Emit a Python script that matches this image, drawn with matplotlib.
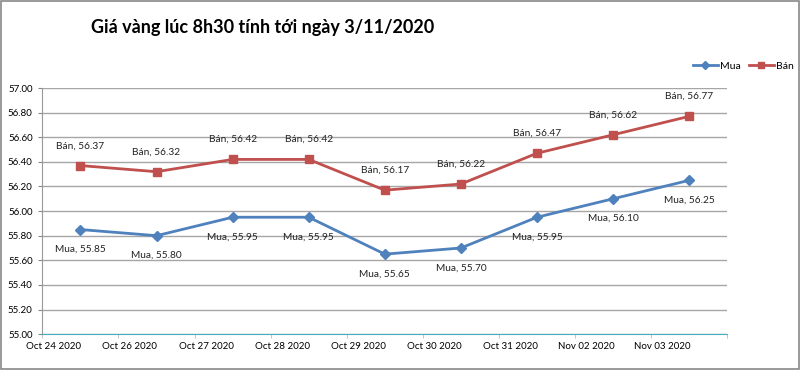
import matplotlib.pyplot as plt
from matplotlib.patches import Rectangle

plt.rcParams['font.family'] = ['Lato', 'DejaVu Sans']

dates = ['Oct 24 2020', 'Oct 26 2020', 'Oct 27 2020', 'Oct 28 2020', 'Oct 29 2020',
         'Oct 30 2020', 'Oct 31 2020', 'Nov 02 2020', 'Nov 03 2020']
mua = [55.85, 55.80, 55.95, 55.95, 55.65, 55.70, 55.95, 56.10, 56.25]
ban = [56.37, 56.32, 56.42, 56.42, 56.17, 56.22, 56.47, 56.62, 56.77]

blue = '#4F81BD'
red = '#C0504D'

fig = plt.figure(figsize=(8, 3.7), dpi=100)
ax = fig.add_axes([0.053, 0.097, 0.856, 0.665])

xs = [i + 0.5 for i in range(len(dates))]
ax.plot(xs, mua, color=blue, lw=2, marker='D', ms=5, label='Mua', zorder=3)
ax.plot(xs, ban, color=red, lw=2, marker='s', ms=6, label='Bán', zorder=3)

for x, v in zip(xs, ban):
    ax.annotate(f'Bán, {v:.2f}', (x, v), xytext=(0, 11), textcoords='offset points',
                ha='center', va='bottom', fontsize=7.3, color='#222222')
for x, v in zip(xs, mua):
    ax.annotate(f'Mua, {v:.2f}', (x, v), xytext=(0, -11), textcoords='offset points',
                ha='center', va='top', fontsize=7.3, color='#222222')

ax.set_xlim(0, len(dates))
ax.set_ylim(55.0, 57.0)
ax.set_yticks([55.0 + 0.2 * i for i in range(11)])
ax.set_yticklabels([f'{55.0 + 0.2 * i:.2f}' for i in range(11)], fontsize=7)
ax.set_xticks([i + 0.15 for i in range(len(dates))])
ax.set_xticklabels(dates, fontsize=7)
ax.set_xticks(range(len(dates) + 1), minor=True)
ax.tick_params(axis='x', which='major', length=0, pad=6)
ax.tick_params(axis='x', which='minor', length=3, color='#BBBBBB')
ax.tick_params(axis='y', length=3, color='#888888', pad=4)

ax.grid(axis='y', color='#A6A6A6', lw=1)
ax.set_axisbelow(True)
for s in ['top', 'right']:
    ax.spines[s].set_visible(False)
ax.spines['left'].set_color('#999999')
ax.spines['bottom'].set_color('#4BACC6')

ax.legend(loc='center left', bbox_to_anchor=(0.866, 0.822), bbox_transform=fig.transFigure,
          ncol=2, frameon=False, fontsize=7.5, handlelength=2.4, columnspacing=0.8,
          handletextpad=0.2, borderaxespad=0, borderpad=0, markerscale=0.8)

fig.text(0.328, 0.925, 'Giá vàng lúc 8h30 tính tới ngày 3/11/2020', ha='center', va='center',
         fontsize=13, fontweight='bold')

fig.patches.append(Rectangle((0.001, 0.002), 0.998, 0.996, transform=fig.transFigure,
                             fill=False, edgecolor='#888888', lw=1.2))

fig.savefig('out.png', dpi=100)
